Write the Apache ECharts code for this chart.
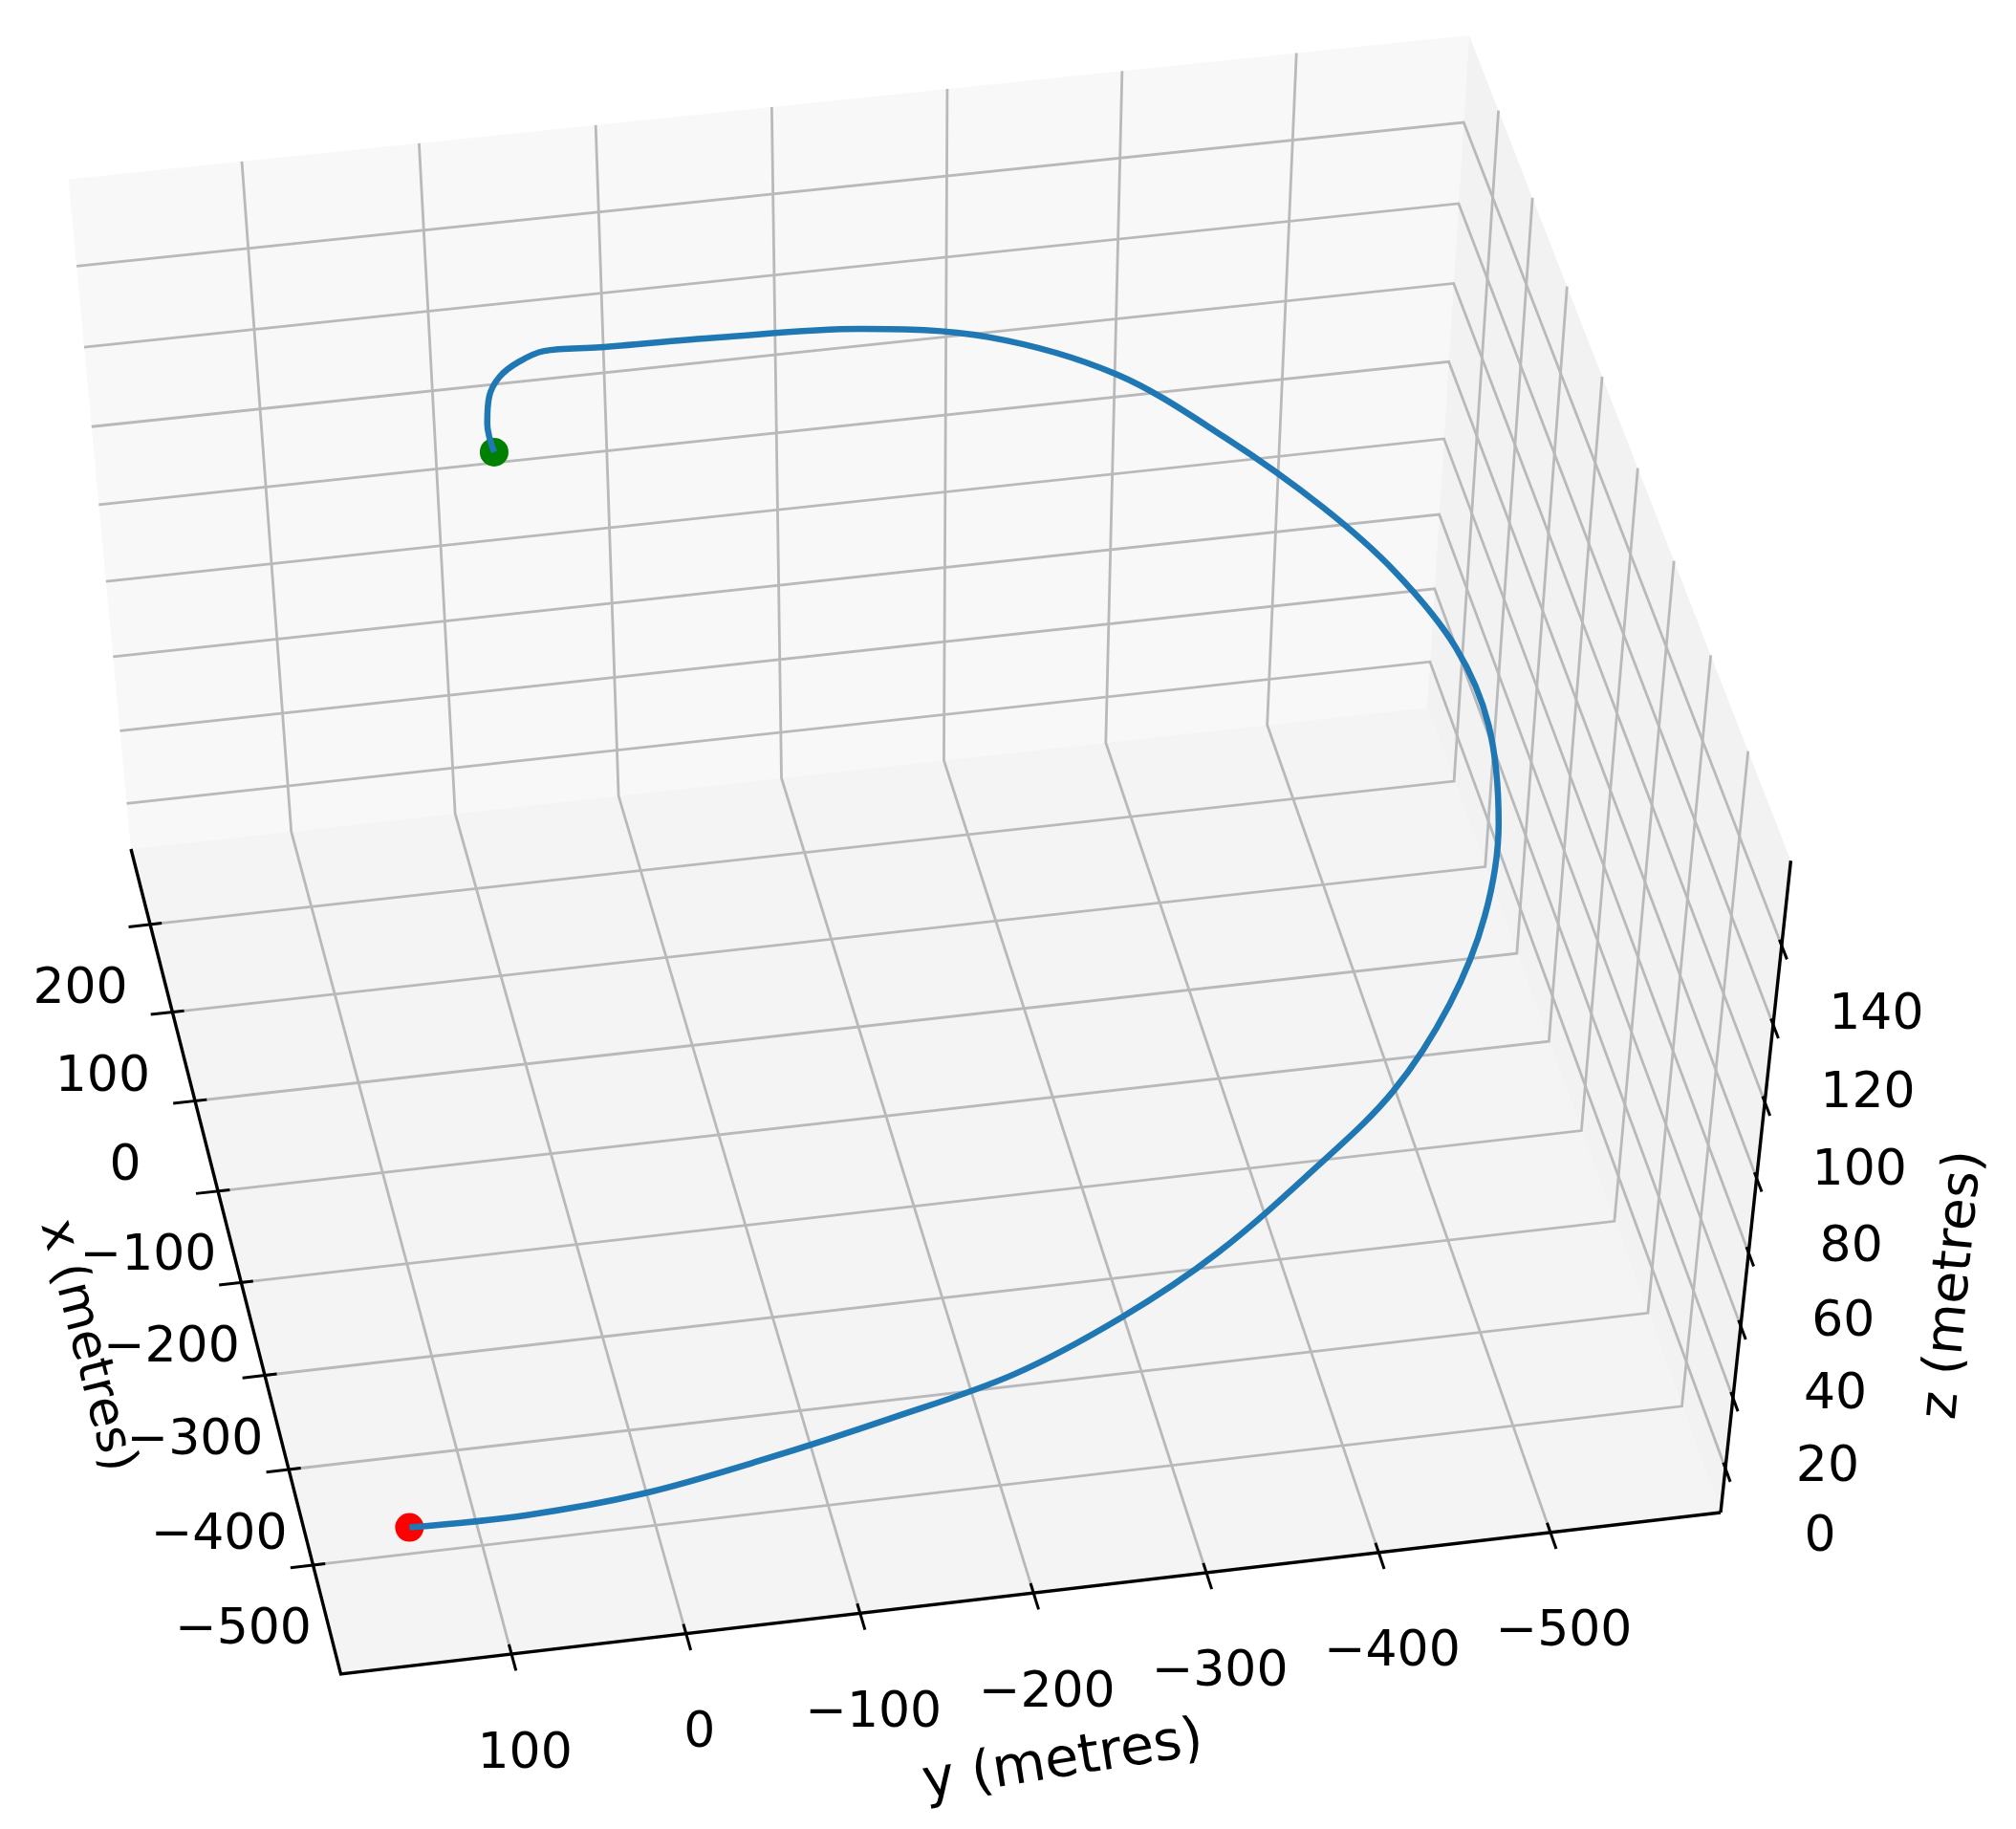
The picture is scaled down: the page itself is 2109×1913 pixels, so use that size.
<!DOCTYPE html>
<html>
<head>
<meta charset="utf-8">
<title>Trajectory</title>
<script src="https://cdn.jsdelivr.net/npm/echarts@6/dist/echarts.min.js"></script>
<style>
  html, body { margin: 0; background: #fff; }
  #chart { width: 2109px; height: 1913px; }
</style>
</head>
<body>
<div id="chart"></div>
<script>
// trajectory, metres
const pathX = [-3, 46, 88, 126, 149, 167, 178, 202, 226, 229, 199, 146, 84, 26, -38, -105, -182, -254, -319, -379, -427, -479, -511, -534, -546, -551, -550, -537, -518]
const pathY = [2, -1, -8, -19, -33, -50, -83, -154, -240, -314, -384, -439, -485, -517, -541, -548, -540, -519, -487, -444, -393, -326, -266, -201, -129, -56, 13, 79, 143]
const pathZ = [149, 145, 142, 138, 136, 134, 131, 125, 118, 112, 106, 99, 93, 88, 82, 77, 70, 64, 58, 52, 47, 40, 34, 28, 23, 17, 11, 5, 0]

const xTicks = [200, 100, 0, -100, -200, -300, -400, -500]
const yTicks = [100, 0, -100, -200, -300, -400, -500]
const zTicks = [0, 20, 40, 60, 80, 100, 120, 140]

const xLim = [-612.3, 287.3]
const yLim = [-599.4, 197.5]
const zLim = [-12.7, 161.05]

// camera: unit box (u back, v right, w up) to page pixels
const camX = [-210.25, 1467.04, -75.5, 356.5]
const camY = [-803.07, -148.31, -762.7, 1751]
const camD = [0.06749, 0.013078, -0.08, 1]

const toU = x => (x - xLim[0]) / (xLim[1] - xLim[0])
const toV = y => (yLim[1] - y) / (yLim[1] - yLim[0])
const toW = z => (z - zLim[0]) / (zLim[1] - zLim[0])

const dot = (m, u, v, w) => m[0] * u + m[1] * v + m[2] * w + m[3]
const project = (x, y, z) => {
  const u = toU(x), v = toV(y), w = toW(z)
  const d = dot(camD, u, v, w)
  return [dot(camX, u, v, w) / d, dot(camY, u, v, w) / d]
}

const [x0, x1] = xLim
const [y0, y1] = yLim
const [z0, z1] = zLim

const panes = [
  { color: '#f8f8f8', pts: [[x1, y1, z0], [x1, y0, z0], [x1, y0, z1], [x1, y1, z1]] },
  { color: '#f2f2f2', pts: [[x0, y0, z0], [x1, y0, z0], [x1, y0, z1], [x0, y0, z1]] },
  { color: '#f4f4f4', pts: [[x0, y1, z0], [x1, y1, z0], [x1, y0, z0], [x0, y0, z0]] }
]

// grid lines run along the floor and up the two walls
const gridLines = [
  ...xTicks.map(t => [[t, y1, z0], [t, y0, z0], [t, y0, z1]]),
  ...yTicks.map(t => [[x0, t, z0], [x1, t, z0], [x1, t, z1]]),
  ...zTicks.map(t => [[x1, y1, t], [x1, y0, t], [x0, y0, t]])
]

const axisLines = [
  [[x1, y1, z0], [x0, y1, z0], [x0, y0, z0]],
  [[x0, y0, z0], [x0, y0, z1]]
]

const tickMarks = [
  ...xTicks.map(t => [[t, y1 + 13, z0], [t, y1 - 7, z0]]),
  ...yTicks.map(t => [[x0 - 17, t, z0], [x0 + 10, t, z0]]),
  ...zTicks.map(t => [[x0 - 14, y0, t], [x0 + 6, y0, t]])
]

const fmt = t => String(t).replace('-', '\u2212')
const offset = (p, dx, dy) => [p[0] + dx, p[1] + dy]

const labels = [
  ...xTicks.map(t => ({ at: offset(project(t, y1, z0), -73, 69), text: fmt(t), rot: 0, size: 52 })),
  ...yTicks.map(t => ({ at: offset(project(x0, t, z0), 14, 105), text: fmt(t), rot: 0, size: 52 })),
  ...zTicks.map(t => ({ at: offset(project(x0, y0, t), 99, 73), text: fmt(t), rot: 0, size: 52 })),
  { at: [90, 1408], text: 'x (metres)', rot: -75.5, size: 52 },
  { at: [1112, 1843], text: 'y (metres)', rot: 9, size: 57 },
  { at: [2044, 1344], text: 'z (metres)', rot: 84.5, size: 55 }
]

const lineSeries = (lines, color, width, z) => ({
  type: 'custom',
  coordinateSystem: 'cartesian2d',
  silent: true,
  clip: false,
  z,
  data: lines.map((_, i) => [i, 0]),
  renderItem: (params, api) => ({
    type: 'polyline',
    shape: { points: lines[params.dataIndex].map(p => api.coord(project(p[0], p[1], p[2]))) },
    style: { stroke: color, lineWidth: width, fill: null, lineJoin: 'miter' }
  })
})

const chart = echarts.init(document.getElementById('chart'), null, { renderer: 'canvas' })

chart.setOption({
  animation: false,
  backgroundColor: '#fff',
  grid: { left: 0, right: 0, top: 0, bottom: 0 },
  xAxis: { type: 'value', min: 0, max: 2109, show: false },
  yAxis: { type: 'value', min: 0, max: 1913, inverse: true, show: false },
  series: [
    {
      type: 'custom',
      silent: true,
      clip: false,
      z: 1,
      data: panes.map((_, i) => [i, 0]),
      renderItem: (params, api) => {
        const pane = panes[params.dataIndex]
        return {
          type: 'polygon',
          shape: { points: pane.pts.map(p => api.coord(project(p[0], p[1], p[2]))) },
          style: { fill: pane.color }
        }
      }
    },
    lineSeries(gridLines, '#b9b9b9', 2.8, 2),
    lineSeries(axisLines, '#000', 3.4, 3),
    lineSeries(tickMarks, '#000', 3, 3),
    {
      type: 'scatter',
      silent: true,
      z: 4,
      symbolSize: 30,
      itemStyle: { opacity: 1 },
      data: [
        { value: project(pathX[0], pathY[0], pathZ[0]), itemStyle: { color: '#008000' } },
        { value: project(pathX[pathX.length - 1], pathY[pathY.length - 1], pathZ[pathZ.length - 1]), itemStyle: { color: '#ff0000' } }
      ]
    },
    {
      type: 'line',
      silent: true,
      z: 5,
      showSymbol: false,
      smooth: 0.34,
      lineStyle: { color: '#1f77b4', width: 6.5 },
      data: pathX.map((x, i) => project(x, pathY[i], pathZ[i]))
    },
    {
      type: 'custom',
      silent: true,
      clip: false,
      z: 6,
      data: labels.map((_, i) => [i, 0]),
      renderItem: (params, api) => {
        const l = labels[params.dataIndex]
        const at = api.coord(l.at)
        return {
          type: 'text',
          x: at[0],
          y: at[1],
          rotation: l.rot * Math.PI / 180,
          style: {
            text: l.text,
            fill: '#000',
            font: l.size + 'px "DejaVu Sans"',
            textAlign: 'center',
            textVerticalAlign: 'middle'
          }
        }
      }
    }
  ]
})
</script>
</body>
</html>
